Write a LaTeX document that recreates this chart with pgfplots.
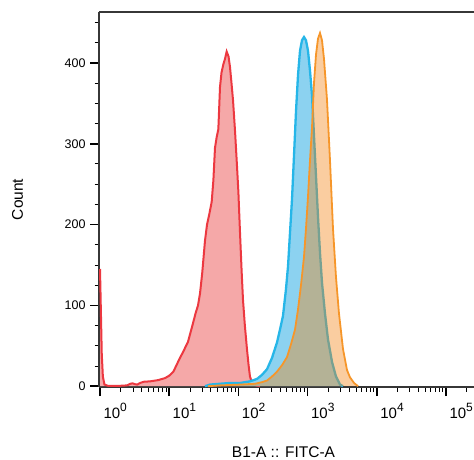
\documentclass[border=0pt]{standalone}
\usepackage{fontspec}
\setmainfont{Liberation Sans}
\usepackage{pgfplots}
\pgfplotsset{compat=1.18}
\usepackage{pgfplotstable}

\definecolor{axcol}{RGB}{55,55,55}
\definecolor{redLine}{RGB}{236,56,64}
\definecolor{redFill}{RGB}{245,168,168}
\definecolor{bluLine}{RGB}{38,182,232}
\definecolor{bluFill}{RGB}{140,210,240}
\definecolor{orgLine}{RGB}{246,150,42}
\definecolor{orgFill}{RGB}{242,130,17}

\newcommand{\dec}[1]{10\raisebox{0.45em}{\fontsize{12}{12}\selectfont #1}}

% red histogram
\pgfplotstableread{
x y
1.0 145
1.02 110
1.06 40
1.10 12
1.16 2
1.30 0.5
1.95 0.5
2.45 1
2.75 3
2.95 3.5
3.2 2.5
3.45 2
3.8 4
4.3 5.5
5.3 6
6.9 7.5
8.7 10
10.0 13
11.5 18
13.4 30
14.5 36
15.8 42
18.7 55
22.1 78
24.0 90
26.1 100
27.9 115
30.0 140
32.9 180
35.2 200
38.0 213
41.1 228
43.5 255
45.9 295
48.5 308
51.3 318
54.2 370
57.0 388
60.5 398
64.0 405
67.7 414
72 408
75.6 395
79.5 375
83.6 354
89.5 315
95.5 272
100 240
105.5 190
111 145
116.5 107
124 75
133 46
140 27
147 12
155 6
165 3
180 1
205 0
}\redtab

% blue histogram
\pgfplotstableread{
x y
32.9 0
38.9 2
54.2 3
75.6 4
105.5 4
147 6
186 9
219 14
259 21
306 35
361 54
399 70
441 87
487 120
521 148
557 190
595 231
636 285
680 340
727 385
777 415
830 428
887 432
948 428
1014 415
1084 390
1158 360
1237 310
1322 260
1413 210
1511 165
1615 128
1784 90
1971 58
2254 30
2572 12
2940 2
3249 0
}\blutab

% orange histogram
\pgfplotstableread{
x y
36.4 0
54.2 1
105.5 2
174 3
219 5
259 7
306 12
361 18
427 26
504 36
576 52
658 70
727 95
803 125
887 160
948 195
1014 235
1084 280
1158 320
1237 375
1322 410
1413 430
1511 437
1615 428
1726 405
1906 355
2106 280
2328 195
2572 135
2842 90
3249 46
3710 20
4099 11
4688 4
5350 0
}\orgtab

\begin{document}
\begin{tikzpicture}
\begin{axis}[
  scale only axis, width=375pt, height=375pt,
  xmode=log, xmin=0.967, xmax=254000,
  ymin=-1, ymax=463,
  axis lines*=left,
  axis line style={-, line width=1.3pt, axcol},
  tick align=outside,
  major tick length=9pt, minor tick length=4.5pt,
  major tick style={line width=1.6pt, black},
  minor tick style={line width=0.9pt, black},
  xtick={1,10,100,1000,10000,100000},
  xticklabels={\dec{0},\dec{1},\dec{2},\dec{3},\dec{4},\dec{5}},
  minor xtick={2,3,4,5,6,7,8,9,20,30,40,50,60,70,80,90,
    200,300,400,500,600,700,800,900,2000,3000,4000,5000,6000,7000,8000,9000,
    20000,30000,40000,50000,60000,70000,80000,90000,200000},
  xticklabel style={font=\fontsize{15}{15}\selectfont, anchor=north west, xshift=0pt, yshift=-4pt},
  ytick={0,100,200,300,400},
  minor ytick={25,50,75,125,150,175,225,250,275,325,350,375,425,450},
  yticklabel style={font=\fontsize{12.5}{14}\selectfont, xshift=-1pt},
  /pgf/number format/assume math mode=true,
  xlabel={B1-A :: FITC-A},
  ylabel={Count},
  every axis x label/.style={at={(rel axis cs:0.5,0)}, anchor=base, yshift=-70pt, xshift=-3pt,
    font=\fontsize{15.5}{16}\selectfont},
  every axis y label/.style={at={(rel axis cs:0,0.5)}, anchor=center, xshift=-81.5pt, rotate=90,
    font=\fontsize{15.5}{16}\selectfont},
]
\addplot[draw=none, fill=redFill] table {\redtab} \closedcycle;
\addplot[redLine, line width=2pt] table {\redtab};
\addplot[draw=none, fill=bluFill] table {\blutab} \closedcycle;
\addplot[bluLine, line width=2.3pt] table {\blutab};
\addplot[draw=none, fill=orgFill, fill opacity=0.4] table {\orgtab} \closedcycle;
\addplot[orgLine, line width=1.8pt] table {\orgtab};
\draw[axcol, line width=1.3pt] (rel axis cs:0,1) -- (rel axis cs:1,1);
\coordinate (ll) at (rel axis cs:0,0);
\coordinate (ur) at (rel axis cs:1,1);
\end{axis}
\pgfresetboundingbox
\path ([shift={(-99pt,-72pt)}]ll) rectangle ([shift={(0pt,12pt)}]ur);
\end{tikzpicture}
\end{document}
